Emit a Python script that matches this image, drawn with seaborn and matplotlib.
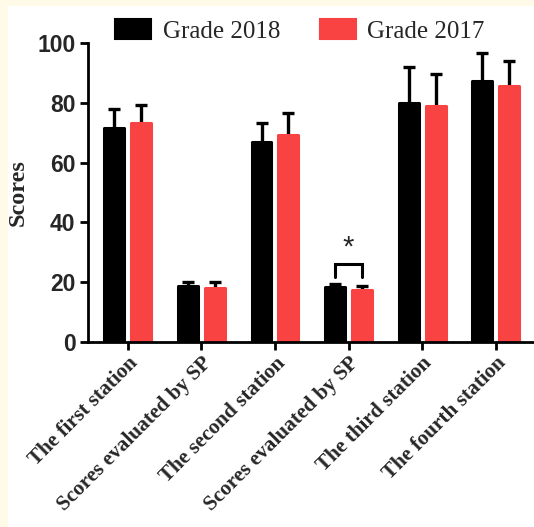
import matplotlib
matplotlib.use("Agg")
import matplotlib.pyplot as plt
from matplotlib.patches import Rectangle, Patch
import seaborn as sns
import pandas as pd
import numpy as np

# Station scores by grade (mean and SD)
categories = ["The first station", "Scores evaluated by SP", "The second station",
              "Scores evaluated by SP ", "The third station", "The fourth station"]
tick_labels = ["The first station", "Scores evaluated by SP", "The second station",
               "Scores evaluated by SP", "The third station", "The fourth station"]
grades = ["Grade 2018", "Grade 2017"]
mean_2018 = [71.6, 18.8, 66.8, 18.4, 80.1, 87.3]
sd_2018 = [6.4, 1.1, 6.3, 0.9, 12.0, 9.3]
mean_2017 = [73.2, 18.2, 69.1, 17.4, 79.0, 85.7]
sd_2017 = [6.1, 1.7, 7.5, 1.4, 10.6, 8.3]
y_ticks = [0, 20, 40, 60, 80, 100]
significant_group = 3
bar_colors = ["#000000", "#f94343"]

df = pd.DataFrame({
    "Station": categories * 2,
    "Grade": [grades[0]] * len(categories) + [grades[1]] * len(categories),
    "Score": mean_2018 + mean_2017,
})
sds = [sd_2018, sd_2017]

sns.set_theme(style="ticks")
plt.rcParams["font.family"] = ["Liberation Sans", "DejaVu Sans"]

fig = plt.figure(figsize=(5.34, 5.27), dpi=100)
fig.patch.set_facecolor("white")
# thin cream frame along the top and left edges
fig.patches.append(Rectangle((0, 1 - 6 / 527), 1, 6 / 527, transform=fig.transFigure,
                             facecolor="#fffbe8", edgecolor="none", zorder=0))
fig.patches.append(Rectangle((0, 0), 8 / 534, 1, transform=fig.transFigure,
                             facecolor="#fffbe8", edgecolor="none", zorder=0))

ax = fig.add_axes([88 / 534, (527 - 342) / 527, 1 - 88 / 534, (342 - 43) / 527])
sns.barplot(data=df, x="Station", y="Score", hue="Grade", hue_order=grades,
            order=categories, palette=bar_colors, errorbar=None,
            width=0.73, gap=0.26, saturation=1, linewidth=0, ax=ax, legend=False)

# soften bar corners with a same-colour rounded outline
for cont, col in zip(ax.containers, bar_colors):
    for bar in cont:
        bar.set_edgecolor(col)
        bar.set_linewidth(2.2)
        bar.set_joinstyle("round")
        bar.set_zorder(2)

# one-sided SD error bars on each bar
for cont, sd in zip(ax.containers, sds):
    for bar, s in zip(cont, sd):
        xc = bar.get_x() + bar.get_width() / 2
        top = bar.get_height()
        _, caps, _ = ax.errorbar(xc, top, yerr=[[0], [s]], fmt="none", ecolor="black",
                                 elinewidth=2.4, capsize=4.5, capthick=2.4, zorder=1)
        caps[0].set_visible(False)

# significance bracket
b1 = ax.containers[0][significant_group]
b2 = ax.containers[1][significant_group]
x1 = b1.get_x() + b1.get_width() / 2
x2 = b2.get_x() + b2.get_width() / 2
ax.plot([x1, x1, x2, x2], [21.7, 26, 26, 21.7], color="black", lw=2.2,
        solid_joinstyle="miter", clip_on=False)
ax.text((x1 + x2) / 2, 27, "*", ha="center", va="bottom", fontsize=21,
        family="Liberation Sans")

ax.set_ylim(0, 100)
ax.set_xlim(-0.54, 5.52)
ax.set_yticks(y_ticks)
ax.set_yticklabels([str(v) for v in y_ticks], fontsize=16.5, fontweight="bold")
ax.set_xticks(range(len(categories)))
ax.set_xticklabels(tick_labels, rotation=45, ha="right", rotation_mode="anchor",
                   fontsize=15.3, fontweight="bold", family="Liberation Serif")
ax.set_xlabel("")
ax.set_ylabel("Scores", fontsize=17.5, fontweight="bold", family="Liberation Serif",
              labelpad=6)
ax.tick_params(axis="both", direction="out", length=6, width=2, color="black", pad=3)
ax.tick_params(axis="x", pad=2)
for side in ["top", "right"]:
    ax.spines[side].set_visible(False)
for side in ["left", "bottom"]:
    ax.spines[side].set_linewidth(2)
    ax.spines[side].set_color("black")
ax.set_facecolor("white")

handles = [Patch(facecolor=c, edgecolor=c, label=g, linewidth=1.5, joinstyle="round")
           for c, g in zip(bar_colors, grades)]
fig.legend(handles=handles, loc="center", bbox_to_anchor=(0.562, 1 - 31 / 527),
           ncol=2, frameon=False, prop={"family": "Liberation Serif", "size": 18},
           handlelength=1.44, handleheight=0.8, handletextpad=0.45, columnspacing=1.6)

fig.savefig("out.png", dpi=100)
